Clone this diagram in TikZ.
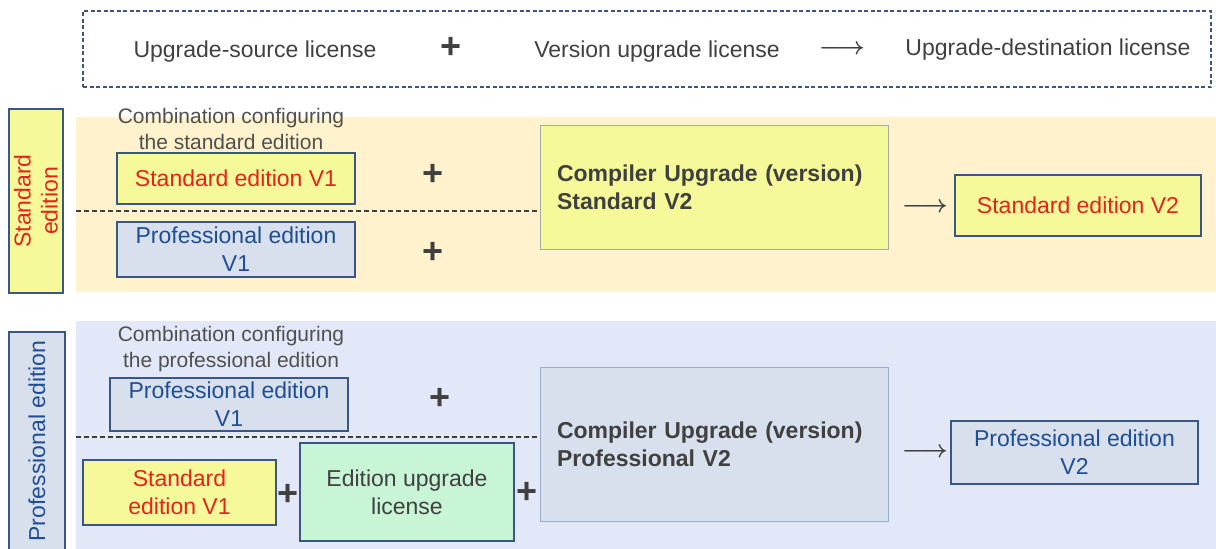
\documentclass[tikz,border=0pt]{standalone}
\usepackage{fontspec}
\setmainfont{Liberation Sans}
\definecolor{bandY}{HTML}{FFF2CC}
\definecolor{bandB}{HTML}{E2E8F8}
\definecolor{yfill}{HTML}{F6F99A}
\definecolor{gbfill}{HTML}{D7E0EC}
\definecolor{mint}{HTML}{C8F5D6}
\definecolor{bdark}{HTML}{3A5683}
\definecolor{bgray}{HTML}{A3ABA0}
\definecolor{blight}{HTML}{9AAECB}
\definecolor{tred}{HTML}{E5231B}
\definecolor{tblue}{HTML}{1F4E96}
\definecolor{tgray}{HTML}{404040}
\definecolor{tcomb}{HTML}{505050}
\tikzset{
  txt/.style={font=\fontsize{23}{28}\selectfont, text=tgray, inner sep=0pt},
  lic/.style={draw=bdark, line width=1.6pt, font=\fontsize{23}{28}\selectfont, align=center, inner sep=0pt},
  ylic/.style={lic, fill=yfill, text=tred},
  blic/.style={lic, fill=gbfill, text=tblue},
  comp/.style={line width=1pt, font=\bfseries\fontsize{23}{28}\selectfont, text=tgray, align=left, inner xsep=17pt, text width=314pt, minimum width=348pt},
  plus/.style={font=\bfseries\fontsize{36}{36}\selectfont, text=tgray, inner sep=0pt},
  arr/.style={font=\fontsize{25}{25}\selectfont\boldmath, text=tgray, inner sep=0pt},
  comb/.style={font=\fontsize{21}{26}\selectfont, text=tcomb, align=center, inner sep=0pt},
  sep/.style={dashed, dash pattern=on 5pt off 3pt, line width=1.2pt, draw=tgray},
}
\begin{document}
\begin{tikzpicture}[x=1pt, y=-1pt]
\useasboundingbox (0,0) rectangle (1216,549);
% legend
\node[draw=bdark, line width=1.3pt, dash pattern=on 4pt off 2.5pt, minimum width=1128pt, minimum height=76pt, inner sep=0pt] (legend) at (647,49) {};
\node[txt] (lsrc) at (255,52) {Upgrade-source license};
\node[plus] (lplus) at (451,48) {+};
\node[txt] (lver) at (657,52) {Version upgrade license};
\node[arr] (larr) at (842,50) {$\longrightarrow$};
\node[txt] (ldst) at (1048,50) {Upgrade-destination license};
% bands
\fill[bandY] (76,117) rectangle (1216,292);
\fill[bandB] (76,321) rectangle (1216,549);
% standard band
\node[draw=bdark, line width=1.6pt, fill=yfill, minimum width=184pt, minimum height=54pt, rotate=90, inner sep=0pt, text=tred, align=center, font=\fontsize{23}{27}\selectfont] (stdlab) at (36,201) {Standard\\edition};
\node[comb] (comb1) at (231,129) {Combination configuring\\the standard edition};
\node[ylic, minimum width=238pt, minimum height=51pt] (s1) at (236,178.5) {Standard edition V1};
\node[blic, minimum width=238pt, minimum height=55pt] (p1) at (236,249.5) {Professional edition\\V1};
\node[plus] (pl1) at (433,175) {+};
\node[plus] (pl2) at (433,253) {+};
\node[comp, draw=bgray, fill=yfill, minimum height=124pt] (cs) at (714,187) {Compiler Upgrade (version)\\Standard V2};
\node[arr] (a1) at (925,208) {$\longrightarrow$};
\node[ylic, minimum width=246pt, minimum height=61pt] (s2) at (1078,205.5) {Standard edition V2};
\coordinate (d1) at (76,211);
\draw[sep] (d1) -- (cs.west |- d1);
% professional band
\node[draw=bdark, line width=1.6pt, fill=gbfill, minimum width=240pt, minimum height=56pt, rotate=90, inner sep=0pt] (prolabbox) at (37,452) {};
\node[rotate=90, inner sep=0pt, text=tblue, font=\fontsize{23}{27}\selectfont] (prolab) at (37,441) {Professional edition};
\node[comb] (comb2) at (231,349.5) {Combination configuring\\the professional edition};
\node[blic, minimum width=238pt, minimum height=53pt] (p1b) at (229,404.5) {Professional edition\\V1};
\node[plus] (pl3) at (440,399) {+};
\node[ylic, minimum width=193pt, minimum height=65pt] (s1b) at (179.5,492.5) {Standard\\edition V1};
\node[plus] (pl4) at (288,495) {+};
\node[lic, fill=mint, text=tgray, minimum width=214pt, minimum height=98pt] (eu) at (407,492) {Edition upgrade\\license};
\node[plus] (pl5) at (527,493) {+};
\node[comp, draw=blight, fill=gbfill, minimum height=154pt] (cp) at (714,444) {Compiler Upgrade (version)\\Professional V2};
\node[arr] (a2) at (925,453) {$\longrightarrow$};
\node[blic, minimum width=247pt, minimum height=63pt] (p2) at (1074.5,452.5) {Professional edition\\V2};
\coordinate (d2) at (76,437);
\draw[sep] (d2) -- (cp.west |- d2);
\end{tikzpicture}
\end{document}
